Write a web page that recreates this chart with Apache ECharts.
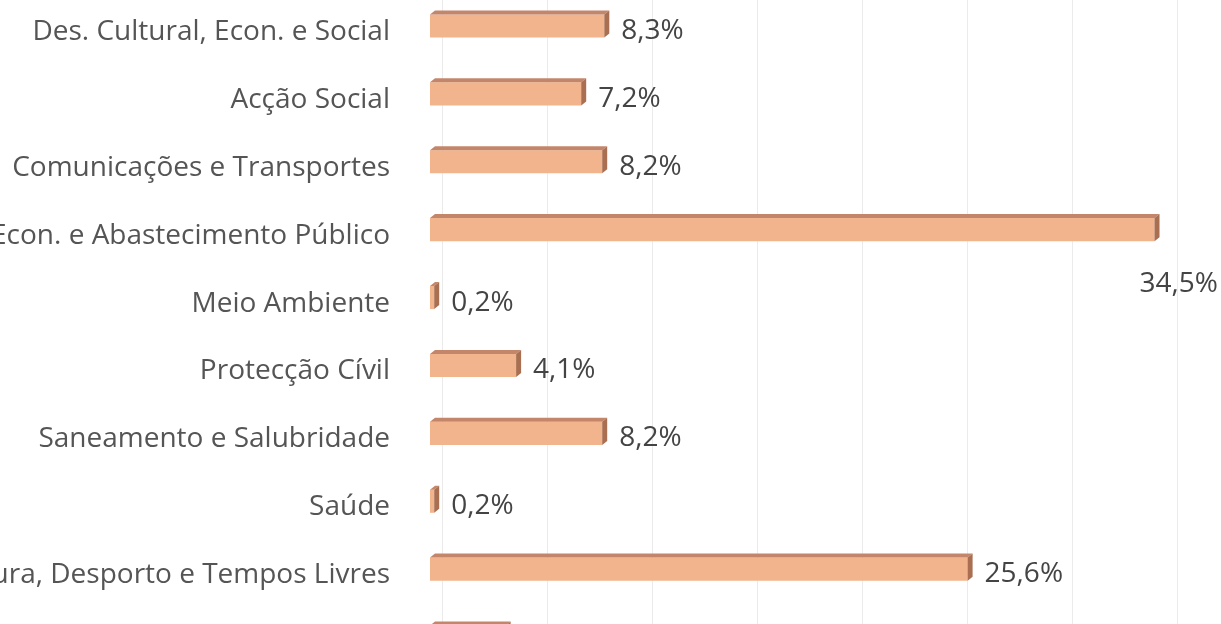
<!DOCTYPE html>
<html>
<head>
<meta charset="utf-8">
<script src="https://cdn.jsdelivr.net/npm/echarts@6/dist/echarts.min.js"></script>
<style>
  html, body { margin: 0; padding: 0; background: #fff; }
  #chart { width: 1221px; height: 624px; }
</style>
</head>
<body>
<div id="chart"></div>
<script>
const categories = [
  "Des. Cultural, Econ. e Social",
  "Acção Social",
  "Comunicações e Transportes",
  "Infraestr. Econ. e Abastecimento Público",
  "Meio Ambiente",
  "Protecção Cívil",
  "Saneamento e Salubridade",
  "Saúde",
  "Cultura, Desporto e Tempos Livres",
  ""
];
const values = [8.3, 7.2, 8.2, 34.5, 0.2, 4.1, 8.2, 0.2, 25.6, 3.6];
const xTicks = [0, 5, 10, 15, 20, 25, 30, 35, 40];

const font = '"Open Sans", "Noto Sans", sans-serif';
const fmt = v => v.toFixed(1).replace(".", ",") + "%";

const chart = echarts.init(document.getElementById("chart"));

// the 3D bar: front face, top face and right side
const renderItem = (params, api) => {
  const idx = api.value(0);
  const v = api.value(1);
  const p0 = api.coord([0, idx]);
  const p1 = api.coord([v, idx]);
  const band = api.size([0, 1])[1];
  const h = band * 0.34;
  const dx = 5;
  const dy = 4;
  const x0 = p0[0];
  const x1 = p1[0];
  const y0 = p0[1] - h / 2;
  const y1 = p0[1] + h / 2;

  let label;
  const lx = x1 + dx + 12;
  if (lx + 90 > api.getWidth()) {
    label = { x: api.getWidth() - 3, y: p0[1] + 54, align: "right" };
  } else {
    label = { x: lx, y: p0[1] + 5, align: "left" };
  }

  return {
    type: "group",
    children: [
      {
        type: "rect",
        shape: { x: x0, y: y0, width: x1 - x0, height: h },
        style: { fill: "#f1b48d" }
      },
      {
        type: "polygon",
        shape: { points: [[x0, y0], [x0 + dx, y0 - dy], [x1 + dx, y0 - dy], [x1, y0]] },
        style: { fill: "#c4866a" }
      },
      {
        type: "polygon",
        shape: { points: [[x1, y0], [x1 + dx, y0 - dy], [x1 + dx, y1 - dy], [x1, y1]] },
        style: { fill: "#a96f50" }
      },
      {
        type: "text",
        style: {
          text: fmt(v),
          x: label.x,
          y: label.y,
          align: label.align,
          verticalAlign: "middle",
          fill: "#444",
          fontSize: 28,
          fontFamily: font
        }
      }
    ]
  };
};

const option = {
  animation: false,
  backgroundColor: "#fff",
  grid: [
    // back wall with the gridlines
    { left: 442, top: -8, width: 840, height: 679, containLabel: false, outerBoundsMode: "none" },
    // bars
    { left: 430, top: -8, width: 840, height: 679, containLabel: false, outerBoundsMode: "none" }
  ],
  xAxis: [
    {
      gridIndex: 0,
      type: "value",
      min: xTicks[0],
      max: xTicks[xTicks.length - 1],
      interval: 5,
      axisLabel: { show: false },
      axisLine: { show: false },
      axisTick: { show: false },
      splitLine: { show: true, lineStyle: { color: "#ebebeb", width: 1 } }
    },
    {
      gridIndex: 1,
      type: "value",
      min: xTicks[0],
      max: xTicks[xTicks.length - 1],
      show: false
    }
  ],
  yAxis: [
    {
      gridIndex: 0,
      type: "category",
      data: categories,
      inverse: true,
      show: false
    },
    {
      gridIndex: 1,
      type: "category",
      data: categories,
      inverse: true,
      axisLine: { show: false },
      axisTick: { show: false },
      axisLabel: {
        margin: 40,
        color: "#555",
        fontSize: 28,
        fontFamily: font,
        verticalAlign: "top",
        lineHeight: 12
      }
    }
  ],
  series: [
    {
      type: "custom",
      xAxisIndex: 1,
      yAxisIndex: 1,
      renderItem: renderItem,
      encode: { x: 1, y: 0 },
      clip: false,
      data: values.map((v, i) => [i, v])
    }
  ]
};

chart.setOption(option);
</script>
</body>
</html>
